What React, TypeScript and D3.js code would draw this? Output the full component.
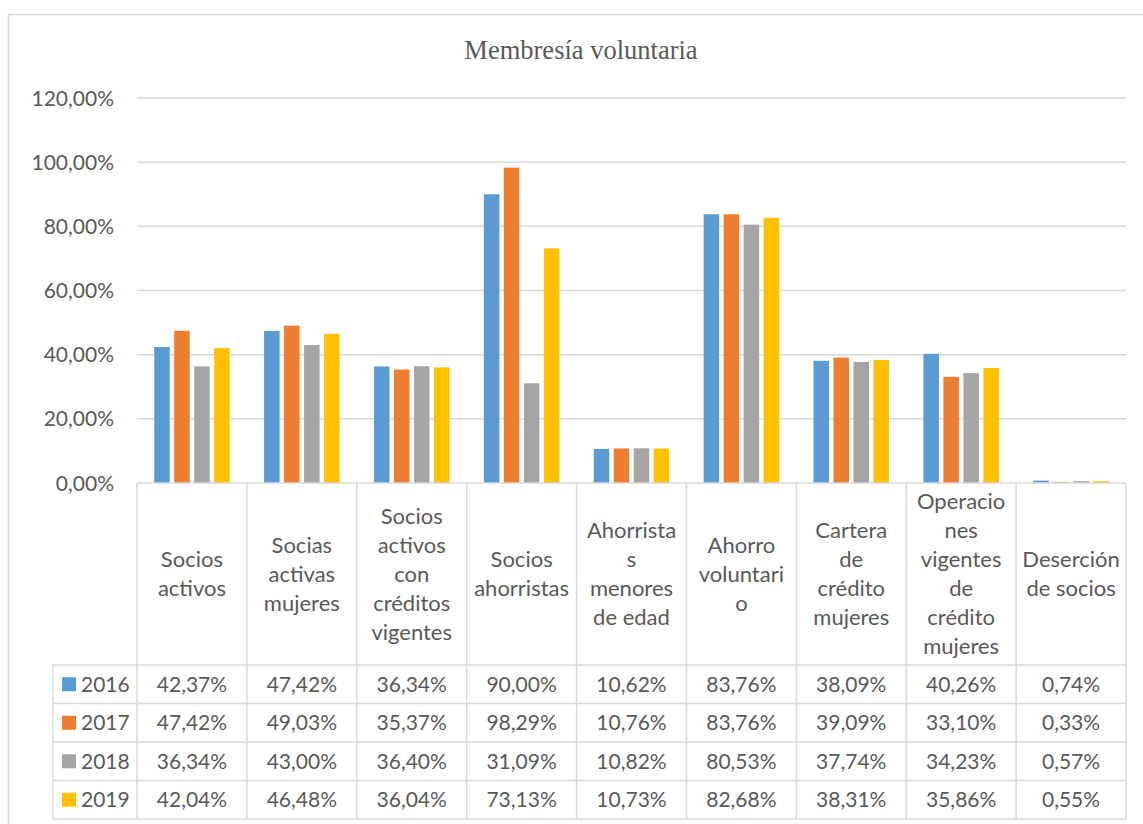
import React from "react";
import * as d3 from "d3";

const categories: string[][] = [
  ["Socios", "activos"],
  ["Socias", "activas", "mujeres"],
  ["Socios", "activos", "con", "créditos", "vigentes"],
  ["Socios", "ahorristas"],
  ["Ahorrista", "s", "menores", "de edad"],
  ["Ahorro", "voluntari", "o"],
  ["Cartera", "de", "crédito", "mujeres"],
  ["Operacio", "nes", "vigentes", "de", "crédito", "mujeres"],
  ["Deserción", "de socios"],
];

const years = ["2016", "2017", "2018", "2019"];
const colors = ["#5B9BD5", "#ED7D31", "#A5A5A5", "#FFC000"];

const v2016 = [42.37, 47.42, 36.34, 90.0, 10.62, 83.76, 38.09, 40.26, 0.74];
const v2017 = [47.42, 49.03, 35.37, 98.29, 10.76, 83.76, 39.09, 33.1, 0.33];
const v2018 = [36.34, 43.0, 36.4, 31.09, 10.82, 80.53, 37.74, 34.23, 0.57];
const v2019 = [42.04, 46.48, 36.04, 73.13, 10.73, 82.68, 38.31, 35.86, 0.55];
const series = [v2016, v2017, v2018, v2019];

const yTicks = [0, 20, 40, 60, 80, 100, 120];

const fmt = (v: number) => v.toFixed(2).replace(".", ",") + "%";

export default function App() {
  const W = 1143;
  const H = 824;
  const plotLeft = 137;
  const plotRight = 1126;
  const y0 = 483;
  const yTop = 98;
  const legendLeft = 53;
  const headerBottom = 665;
  const rowH = 38.5;
  const font = "Lato, 'Open Sans', sans-serif";
  const textColor = "#595959";
  const lineColor = "#D9D9D9";

  const x = d3
    .scaleBand<number>()
    .domain(d3.range(categories.length))
    .range([plotLeft, plotRight])
    .paddingInner(0)
    .paddingOuter(0);
  const xs = d3
    .scaleBand<number>()
    .domain(d3.range(years.length))
    .range([0, x.bandwidth()])
    .paddingInner(0.225)
    .paddingOuter(0.86);
  const y = d3.scaleLinear().domain([0, 120]).range([y0, yTop]);

  const rowsY = d3.range(years.length + 1).map((i) => headerBottom + i * rowH);
  const headerMid = (y0 + headerBottom) / 2;
  const lineH = 29;

  return (
    <svg
      width={W}
      height={H}
      style={{ position: "absolute", left: 0, top: 0, background: "#fff" }}
      fontFamily={font}
    >
      <rect x={0} y={0} width={W} height={H} fill="#fff" />
      {/* outer border */}
      <path d={`M8.5,${H} V14.5 H${W}`} fill="none" stroke={lineColor} strokeWidth={1.5} />
      {/* title */}
      <text
        x={581}
        y={59}
        textAnchor="middle"
        fontFamily="'Liberation Serif', 'Times New Roman', serif"
        fontSize={26.5}
        fill={textColor}
      >
        Membresía voluntaria
      </text>
      {/* gridlines & y labels */}
      {yTicks.map((t) => (
        <g key={t}>
          {t > 0 && (
            <line x1={plotLeft} x2={plotRight} y1={y(t)} y2={y(t)} stroke={lineColor} strokeWidth={1.5} />
          )}
          <text x={114} y={y(t) + 7.5} textAnchor="end" fontSize={21} fill={textColor}>
            {fmt(t)}
          </text>
        </g>
      ))}
      {/* bars */}
      {categories.map((_, ci) => (
        <g key={ci}>
          {series.map((s, si) => (
            <rect
              key={si}
              x={(x(ci) as number) + (xs(si) as number)}
              y={y(s[ci])}
              width={xs.bandwidth()}
              height={y0 - y(s[ci])}
              fill={colors[si]}
            />
          ))}
        </g>
      ))}
      {/* data table lines */}
      <line x1={plotLeft} x2={plotRight} y1={y0} y2={y0} stroke={lineColor} strokeWidth={1.5} />
      {rowsY.map((ry, i) => (
        <line key={i} x1={legendLeft} x2={plotRight} y1={ry} y2={ry} stroke={lineColor} strokeWidth={1.5} />
      ))}
      <line x1={legendLeft} x2={legendLeft} y1={headerBottom} y2={rowsY[rowsY.length - 1]} stroke={lineColor} strokeWidth={1.5} />
      {d3.range(categories.length + 1).map((i) => {
        const xx = i < categories.length ? (x(i) as number) : plotRight;
        return (
          <line key={i} x1={xx} x2={xx} y1={y0} y2={rowsY[rowsY.length - 1]} stroke={lineColor} strokeWidth={1.5} />
        );
      })}
      {/* header labels */}
      {categories.map((lines, ci) => (
        <text key={ci} textAnchor="middle" fontSize={22} fill={textColor}>
          {lines.map((ln, li) => (
            <tspan
              key={li}
              x={(x(ci) as number) + x.bandwidth() / 2}
              y={headerMid + (li - (lines.length - 1) / 2) * lineH + 7.5}
            >
              {ln}
            </tspan>
          ))}
        </text>
      ))}
      {/* legend keys and values */}
      {years.map((yr, si) => {
        const cy = rowsY[si] + rowH / 2;
        return (
          <g key={yr}>
            <rect x={62} y={cy - 7} width={14} height={14} fill={colors[si]} />
            <text x={81} y={cy + 7.5} fontSize={21} fill={textColor}>
              {yr}
            </text>
            {series[si].map((v, ci) => (
              <text
                key={ci}
                x={(x(ci) as number) + x.bandwidth() / 2}
                y={cy + 7.5}
                textAnchor="middle"
                fontSize={21}
                fill={textColor}
              >
                {fmt(v)}
              </text>
            ))}
          </g>
        );
      })}
    </svg>
  );
}
